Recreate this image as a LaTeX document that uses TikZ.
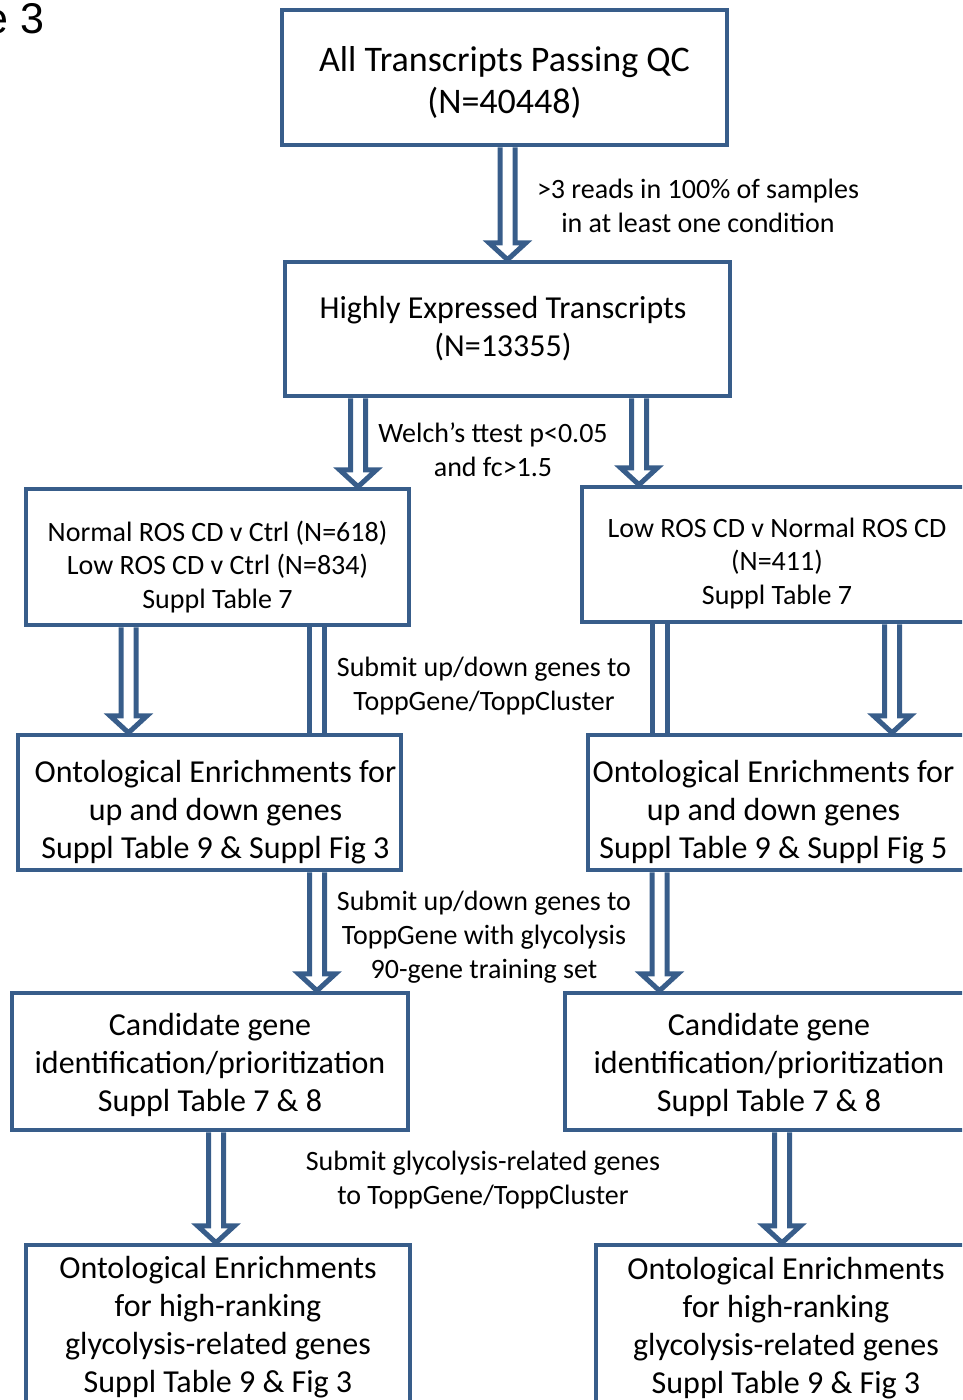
\documentclass[tikz,border=0pt]{standalone}
\usepackage{fontspec}
\setmainfont{Carlito}
\newfontfamily\figfont{Liberation Sans}
\usetikzlibrary{calc}
\definecolor{boxblue}{RGB}{56,93,138}

% hollow block arrow: #1 x position, #2 from node, #3 to node
\newcommand{\blockarrow}[3]{%
	\draw[flow] let \p1=(#2.south), \p2=(#3.north) in
		(#1pt-7.5pt,\y1) -- (#1pt-7.5pt,\y2+17pt) -- (#1pt-18.5pt,\y2+17pt)
		-- (#1pt,\y2) -- (#1pt+18.5pt,\y2+17pt) -- (#1pt+7.5pt,\y2+17pt)
		-- (#1pt+7.5pt,\y1);}
% same shaft, no head
\newcommand{\blocklink}[3]{%
	\draw[flow] let \p1=(#2.south), \p2=(#3.north) in
		(#1pt-7.5pt,\y1) -- (#1pt-7.5pt,\y2)
		(#1pt+7.5pt,\y1) -- (#1pt+7.5pt,\y2);}

\begin{document}
\begin{tikzpicture}
	[x=1pt,y=-1pt,
	 stage/.style={draw=boxblue,line width=4.5pt,fill=white,inner sep=0pt},
	 big/.style={align=center,inner sep=0pt,font=\fontsize{36}{42}\selectfont},
	 mid/.style={align=center,inner sep=0pt,font=\fontsize{32}{38}\selectfont},
	 small/.style={align=center,inner sep=0pt,font=\fontsize{28}{33.5}\selectfont},
	 note/.style={align=center,inner sep=0pt,font=\fontsize{28}{34}\selectfont},
	 flow/.style={draw=boxblue,line width=5pt,line join=miter}]
	\useasboundingbox (0,0) rectangle (962,1400);
	\clip (0,0) rectangle (962,1400);

	\node[anchor=base west,inner sep=0pt,font=\figfont\fontsize{43}{50}\selectfont] (fig) at (-15.5,33) {e 3};

	% top of the funnel
	\node[stage,minimum width=445,minimum height=135] (QC) at (504.5,77.5) {};
	\node[big] (QCtext) at (504.5,82.5) {All Transcripts Passing QC\\(N=40448)};
	\node[stage,minimum width=445,minimum height=134] (HE) at (507.5,329) {};
	\node[mid] (HEtext) at (503,329) {Highly Expressed Transcripts\\(N=13355)};

	% comparisons
	\node[stage,minimum width=383,minimum height=136] (NC) at (217.5,557) {};
	\node[small] (NCtext) at (217.5,567)
		{Normal ROS CD v Ctrl (N=618)\\Low ROS CD v Ctrl (N=834)\\Suppl Table 7};
	\node[stage,minimum width=390,minimum height=135] (LN) at (777,554.5) {};
	\node[small] (LNtext) at (777,563.5)
		{Low ROS CD v Normal ROS CD\\(N=411)\\Suppl Table 7};

	% ontologies
	\node[stage,minimum width=383,minimum height=135] (OL) at (209.5,802.5) {};
	\node[mid] (OLtext) at (215.5,812.5)
		{Ontological Enrichments for\\up and down genes\\Suppl Table 9 \& Suppl Fig 3};
	\node[stage,minimum width=380,minimum height=135] (OR) at (778,802.5) {};
	\node[mid] (ORtext) at (773.5,812.5)
		{Ontological Enrichments for\\up and down genes\\Suppl Table 9 \& Suppl Fig 5};

	% candidates
	\node[stage,minimum width=396,minimum height=137] (CL) at (210,1061.5) {};
	\node[mid] (CLtext) at (210,1064.5)
		{Candidate gene\\identification/prioritization\\Suppl Table 7 \& 8};
	\node[stage,minimum width=408,minimum height=137] (CR) at (769,1061.5) {};
	\node[mid] (CRtext) at (769,1064.5)
		{Candidate gene\\identification/prioritization\\Suppl Table 7 \& 8};

	% glycolysis ontologies
	\node[stage,minimum width=384,minimum height=165] (GL) at (218,1327.5) {};
	\node[mid] (GLtext) at (218,1327.5)
		{Ontological Enrichments\\for high-ranking\\glycolysis-related genes\\Suppl Table 9 \& Fig 3};
	\node[stage,minimum width=380,minimum height=165] (GR) at (786,1327.5) {};
	\node[mid] (GRtext) at (786,1328)
		{Ontological Enrichments\\for high-ranking\\glycolysis-related genes\\Suppl Table 9 \& Fig 3};

	% step labels
	\node[note] (T1) at (698,206) {>3 reads in 100\% of samples\\in at least one condition};
	\node[note] (T2) at (493,449.5) {Welch’s ttest p<0.05\\and fc>1.5};
	\node[note] (T3) at (484,686) {Submit up/down genes to\\ToppGene/ToppCluster};
	\node[note] (T4) at (484,937) {Submit up/down genes to\\ToppGene with glycolysis\\90-gene training set};
	\node[note] (T5) at (483,1180) {Submit glycolysis-related genes\\to ToppGene/ToppCluster};

	% arrows
	\blockarrow{507.5}{QC}{HE}
	\blockarrow{358}{HE}{NC}
	\blockarrow{639}{HE}{LN}
	\blockarrow{128.5}{NC}{OL}
	\blocklink{317}{NC}{OL}
	\blocklink{659.5}{LN}{OR}
	\blockarrow{892}{LN}{OR}
	\blockarrow{317}{OL}{CL}
	\blockarrow{659.5}{OR}{CR}
	\blockarrow{216}{CL}{GL}
	\blockarrow{782}{CR}{GR}

\end{tikzpicture}
\end{document}
